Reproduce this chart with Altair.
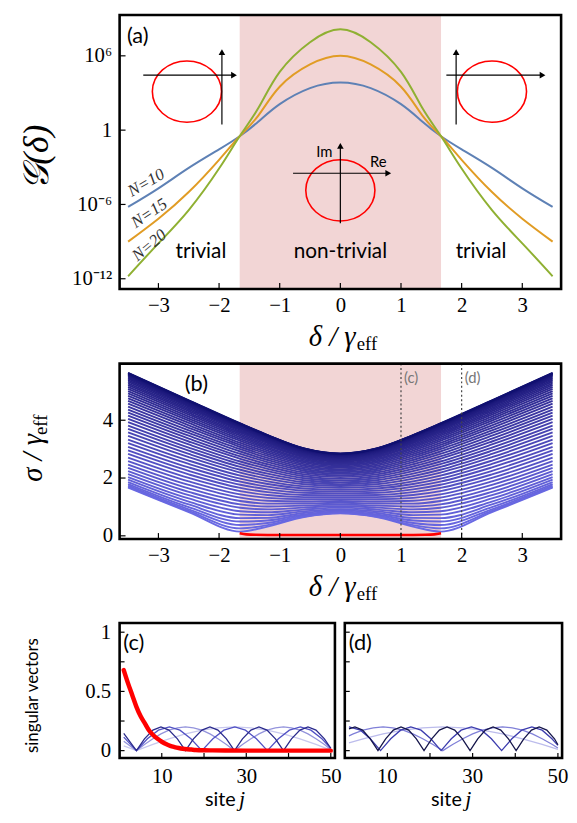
import altair as alt
import pandas as pd

SERIF = "Liberation Serif"
SANS = "Lato"
PINK = "#f2d5d5"
FRAME_W = 2.6

# ---------------- panel (a): end-to-end gain ----------------
DELTA_A = [-3.5, -3.0, -2.5, -2.0, -1.66, -1.35, -1.0, -0.5, 0.0, 0.5, 1.0, 1.35, 1.66, 2.0, 2.5, 3.0, 3.5]
G_N10 = [6.3e-7, 2.0e-5, 8.9e-4, 2.8e-2, 0.32, 5.0, 126, 2.5e3, 7.1e3, 2.5e3, 126, 5.0, 0.32, 2.8e-2, 8.9e-4, 2.0e-5, 6.3e-7]
G_N15 = [1.0e-9, 7.1e-8, 1.0e-5, 4.0e-3, 0.32, 15.8, 3.2e3, 2.0e5, 1.0e6, 2.0e5, 3.2e3, 15.8, 0.32, 4.0e-3, 1.0e-5, 7.1e-8, 1.0e-9]
G_N20 = [1.6e-12, 7.2e-10, 3.5e-7, 7.9e-4, 0.32, 63, 5.0e4, 1.26e7, 1.38e8, 1.26e7, 5.0e4, 63, 0.32, 7.9e-4, 3.5e-7, 7.2e-10, 1.6e-12]
N_COLORS = ["#5e81b5", "#e19c24", "#8fb032"]
N_TEXT = ["N=10", "N=15", "N=20"]
N_X = [-3.2, -3.15, -3.15]
N_Y = [5.5e-5, 1.9e-7, 4.9e-10]
N_ANGLE = [330, 326, 320]
GAP_EDGE = 1.66

REGION_TEXT = ["trivial", "non-trivial", "trivial"]
REGION_X = [-2.3, 0.0, 2.32]
REGION_Y = [5.2e-11, 5.2e-11, 5.2e-11]

INSET_CX = [-2.53, 0.0, 2.50]
INSET_CY = [1.29e3, 1.38e-5, 1.29e3]
HX1 = [-3.25, -0.78, 1.748]
HX2 = [-1.754, 0.79, 3.334]
HY = [2.75e4, 3.3e-4, 2.75e4]
VX = [-1.953, 0.0, 1.909]
VY1 = [2.84, 3.1e-8, 2.84]
VY2 = [1.95e6, 5.4e-2, 1.95e6]

# ---------------- panel (b): singular values ----------------
DELTA_B_POS = [0.0, 0.6, 1.2, 1.65, 2.5, 3.5]
S_00 = [0.775, 0.789, 0.812, 0.843, 0.881, 0.926, 0.975, 1.029, 1.086, 1.145, 1.207, 1.270, 1.334, 1.399, 1.464, 1.530, 1.595, 1.660, 1.724, 1.787, 1.850, 1.911, 1.971, 2.030, 2.088, 2.143, 2.198, 2.250, 2.301, 2.350, 2.397, 2.441, 2.484, 2.525, 2.563, 2.600, 2.633, 2.665, 2.694, 2.721, 2.745, 2.767, 2.786, 2.803, 2.818, 2.829, 2.838, 2.845, 2.849]
S_06 = [0.647, 0.666, 0.698, 0.740, 0.790, 0.847, 0.909, 0.976, 1.045, 1.117, 1.190, 1.264, 1.339, 1.414, 1.489, 1.564, 1.638, 1.711, 1.784, 1.855, 1.925, 1.993, 2.061, 2.126, 2.190, 2.252, 2.312, 2.370, 2.426, 2.480, 2.532, 2.581, 2.628, 2.673, 2.715, 2.755, 2.792, 2.827, 2.859, 2.888, 2.915, 2.939, 2.960, 2.979, 2.994, 3.007, 3.017, 3.024, 3.029]
S_12 = [0.320, 0.371, 0.444, 0.529, 0.621, 0.717, 0.816, 0.915, 1.015, 1.116, 1.215, 1.315, 1.413, 1.511, 1.607, 1.702, 1.795, 1.887, 1.977, 2.066, 2.152, 2.237, 2.319, 2.399, 2.477, 2.552, 2.625, 2.696, 2.764, 2.829, 2.891, 2.951, 3.008, 3.062, 3.113, 3.160, 3.205, 3.247, 3.285, 3.320, 3.352, 3.381, 3.407, 3.429, 3.447, 3.463, 3.475, 3.483, 3.488]
S_165 = [0.147, 0.257, 0.375, 0.494, 0.613, 0.733, 0.852, 0.971, 1.088, 1.205, 1.320, 1.434, 1.547, 1.658, 1.767, 1.875, 1.981, 2.085, 2.188, 2.287, 2.385, 2.480, 2.573, 2.664, 2.751, 2.836, 2.918, 2.998, 3.074, 3.147, 3.218, 3.285, 3.349, 3.409, 3.466, 3.520, 3.570, 3.617, 3.660, 3.700, 3.736, 3.768, 3.796, 3.821, 3.842, 3.859, 3.873, 3.882, 3.888]
S_25 = [0.823, 0.860, 0.919, 0.995, 1.085, 1.185, 1.293, 1.406, 1.522, 1.641, 1.762, 1.884, 2.006, 2.127, 2.248, 2.368, 2.487, 2.604, 2.720, 2.834, 2.945, 3.054, 3.161, 3.264, 3.365, 3.464, 3.559, 3.650, 3.739, 3.824, 3.906, 3.984, 4.058, 4.128, 4.195, 4.258, 4.316, 4.371, 4.421, 4.467, 4.509, 4.547, 4.580, 4.609, 4.634, 4.654, 4.670, 4.681, 4.688]
S_35 = [1.669, 1.694, 1.736, 1.792, 1.862, 1.943, 2.034, 2.134, 2.240, 2.352, 2.468, 2.587, 2.709, 2.833, 2.957, 3.082, 3.207, 3.331, 3.455, 3.577, 3.697, 3.816, 3.932, 4.046, 4.157, 4.266, 4.371, 4.473, 4.571, 4.666, 4.757, 4.844, 4.928, 5.007, 5.082, 5.152, 5.218, 5.279, 5.336, 5.388, 5.436, 5.478, 5.516, 5.549, 5.577, 5.599, 5.617, 5.630, 5.637]
SIG_B = [S_00, S_06, S_12, S_165, S_25, S_35]
RED_D = [-1.66, -1.55, -1.4, -1.2, -0.6, 0.0, 0.6, 1.2, 1.4, 1.55, 1.66]
RED_S = [0.09, 0.05, 0.035, 0.03, 0.03, 0.03, 0.03, 0.03, 0.035, 0.05, 0.09]
CUT_D = [1.0, 2.0]
CUT_TEXT = ["(c)", "(d)"]

# ---------------- panels (c), (d): singular vectors ----------------
RED_SITE = [1, 2, 3, 4, 5, 6, 7, 8, 9, 10, 11, 12, 13, 14, 15, 16, 17, 18, 20, 22, 25, 30, 40, 50]
RED_VAL = [0.68, 0.57, 0.47, 0.37, 0.29, 0.23, 0.17, 0.13, 0.10, 0.075, 0.055, 0.04, 0.03, 0.022, 0.016, 0.012, 0.009, 0.006, 0.003, 0.002, 0.001, 0.0, 0.0, 0.0]

C1_SITE = [1, 4, 5.9, 7.9, 9.8, 11.7, 13.7, 15.6, 17.5, 19.5, 21.4, 23.3, 25.3, 27.2, 29.1, 31.1, 33.0, 34.9, 36.9, 38.8, 40.7, 42.7, 44.6, 46.5, 48.5, 50]
C1_VAL = [0.145, 0, 0.1, 0.173, 0.2, 0.173, 0.1, 0, 0.1, 0.173, 0.2, 0.173, 0.1, 0, 0.1, 0.173, 0.2, 0.173, 0.1, 0, 0.1, 0.173, 0.2, 0.173, 0.1, 0.02]
C2_SITE = [1, 4, 6.6, 9.2, 11.8, 14.3, 16.9, 19.5, 22.1, 24.7, 27.3, 29.8, 32.4, 35, 37.6, 40.2, 42.8, 45.3, 47.9, 50]
C2_VAL = [0.114, 0, 0.1, 0.173, 0.2, 0.173, 0.1, 0, 0.1, 0.173, 0.2, 0.173, 0.1, 0, 0.1, 0.173, 0.2, 0.173, 0.1, 0.02]
C3_SITE = [1, 4, 5.9, 7.9, 9.8, 11.7, 13.7, 15.6, 17.5, 19.5, 21.4, 23.3, 25.3, 27.2, 29.1, 31.1, 33.0, 34.9, 36.9, 38.8, 40.7, 42.7, 44.6, 46.5, 48.5, 50]
C3_VAL = [0.079, 0, 0.052, 0.1, 0.141, 0.173, 0.193, 0.2, 0.193, 0.173, 0.141, 0.1, 0.052, 0, 0.052, 0.1, 0.141, 0.173, 0.193, 0.2, 0.193, 0.173, 0.141, 0.1, 0.052, 0.01]
C4_SITE = [1, 4, 7.9, 11.7, 15.6, 19.5, 23.3, 27.2, 31.1, 34.9, 38.8, 42.7, 46.5, 50]
C4_VAL = [0.04, 0, 0.052, 0.1, 0.141, 0.173, 0.193, 0.2, 0.193, 0.173, 0.141, 0.1, 0.052, 0.005]
C_COLORS = ["#c8c8ee", "#9494dc", "#5151c4", "#2a2a8c"]

D1_SITE = [1, 2.4, 4.2, 6.0, 7.8, 9.6, 11.4, 13.2, 15.0, 16.8, 18.6, 20.4, 22.2, 24.0, 25.8, 27.6, 29.4, 31.2, 33.0, 34.8, 36.6, 38.4, 40.2, 42.0, 43.8, 45.6, 47.4, 49.2, 50]
D1_VAL = [0.184, 0.2, 0.173, 0.1, 0, 0.1, 0.173, 0.2, 0.173, 0.1, 0, 0.1, 0.173, 0.2, 0.173, 0.1, 0, 0.1, 0.173, 0.2, 0.173, 0.1, 0, 0.1, 0.173, 0.2, 0.173, 0.1, 0.05]
D2_SITE = [1, 3.7, 6.0, 8.4, 10.8, 13.1, 15.5, 17.9, 20.2, 22.6, 25.0, 27.3, 29.7, 32.1, 34.4, 36.8, 39.2, 41.5, 43.9, 46.3, 48.6, 50]
D2_VAL = [0.2, 0.173, 0.1, 0, 0.1, 0.173, 0.2, 0.173, 0.1, 0, 0.1, 0.173, 0.2, 0.173, 0.1, 0, 0.1, 0.173, 0.2, 0.173, 0.1, 0.044]
D3_SITE = [1, 2.0, 4.3, 6.7, 9.0, 11.3, 13.7, 16.0, 18.3, 20.7, 23.0, 25.3, 27.7, 30.0, 32.3, 34.7, 37.0, 39.3, 41.7, 44.0, 46.3, 48.7, 50]
D3_VAL = [0.125, 0.141, 0.173, 0.193, 0.2, 0.193, 0.173, 0.141, 0.1, 0.052, 0, 0.052, 0.1, 0.141, 0.173, 0.193, 0.2, 0.193, 0.173, 0.141, 0.1, 0.052, 0.022]
D4_SITE = [1, 4.3, 9.0, 13.7, 18.3, 23.0, 27.7, 32.3, 37.0, 41.7, 46.3, 50]
D4_VAL = [0.066, 0.1, 0.141, 0.173, 0.193, 0.2, 0.193, 0.173, 0.141, 0.1, 0.052, 0.011]
D_COLORS = ["#bcbcec", "#8080d8", "#3c3cae", "#15154a"]

# ---------------- layout ----------------
W_A, H_A = 447, 277.5
W_B, H_B = 447, 177.6
W_C, W_D, X_D0 = 218, 220, 228
Y_OFF, H_C = 9.6, 136.7
W_R, H_R = X_D0 + W_D, Y_OFF + H_C
SPACING = 75
ELLIPSE = "M -1 0 A 1 0.886 0 1 1 1 0 A 1 0.886 0 1 1 -1 0 Z"


def axis(values, pad, fmt=None, expr=None):
    kw = dict(values=values, title="", ticks=False, domain=False, grid=False,
              labelFont=SERIF, labelFontSize=21, labelPadding=pad, labelColor="black",
              labelFlush=False, labelOverlap=False)
    if fmt:
        kw["format"] = fmt
    if expr:
        kw["labelExpr"] = expr
    return alt.Axis(**kw)


def one(v="x"):
    return pd.DataFrame({"t": [v]})


def txt(text, x, y, size, font=SANS, align="left", baseline="alphabetic", angle=0,
        style="normal", color="black", dy=0):
    return alt.Chart(one(text)).mark_text(
        align=align, baseline=baseline, fontSize=size, font=font, fontStyle=style,
        color=color, angle=angle, dy=dy).encode(x=alt.value(x), y=alt.value(y), text="t:N")


def frame(x0, y0, w, h):
    return alt.Chart(one()).mark_rect(fillOpacity=0, stroke="black", strokeWidth=FRAME_W).encode(
        x=alt.value(x0), x2=alt.value(x0 + w), y=alt.value(y0), y2=alt.value(y0 + h))


sx = alt.Scale(domain=[-3.64, 3.64], nice=False, zero=False)
ax_x = axis([-3, -2, -1, 0, 1, 2, 3], 6)


def Xd(f):
    return alt.X(f"{f}:Q", scale=sx, axis=ax_x)


# ======== (a) ========
sy_a = alt.Scale(type="log", domain=[1.48e-13, 2.0e9], nice=False)
ax_ya = axis([1e-12, 1e-6, 1, 1e6], 8,
             expr="datum.value > 1000 ? '10⁶' : datum.value > 0.5 ? '1' : datum.value > 1e-9 ? '10⁻⁶' : '10⁻¹²'")


def Ya(f):
    return alt.Y(f"{f}:Q", scale=sy_a, axis=ax_ya)


la = []
la.append(alt.Chart(pd.DataFrame({"lo": [-GAP_EDGE], "hi": [GAP_EDGE]})).mark_rect(color=PINK).encode(
    x=Xd("lo"), x2="hi:Q", y=alt.value(0), y2=alt.value(H_A)))
for vals, col in zip([G_N10, G_N15, G_N20], N_COLORS):
    la.append(alt.Chart(pd.DataFrame({"d": DELTA_A, "G": vals})).mark_line(
        color=col, strokeWidth=2, interpolate="natural").encode(x=Xd("d"), y=Ya("G")))
# insets
la.append(alt.Chart(pd.DataFrame({"d": INSET_CX, "G": INSET_CY})).mark_point(
    shape=ELLIPSE, size=4900, filled=False, color="red", strokeWidth=1.6, opacity=1).encode(x=Xd("d"), y=Ya("G")))
la.append(alt.Chart(pd.DataFrame({"a": HX1, "b": HX2, "G": HY})).mark_rule(color="black", strokeWidth=1.2).encode(
    x=Xd("a"), x2="b:Q", y=Ya("G")))
la.append(alt.Chart(pd.DataFrame({"d": VX, "g1": VY1, "g2": VY2})).mark_rule(color="black", strokeWidth=1.2).encode(
    x=Xd("d"), y=Ya("g1"), y2="g2:Q"))
la.append(alt.Chart(pd.DataFrame({"d": HX2, "G": HY})).mark_point(
    shape="triangle-right", filled=True, size=45, color="black", opacity=1).encode(x=Xd("d"), y=Ya("G")))
la.append(alt.Chart(pd.DataFrame({"d": VX, "G": VY2})).mark_point(
    shape="triangle-up", filled=True, size=45, color="black", opacity=1).encode(x=Xd("d"), y=Ya("G")))
la.append(alt.Chart(pd.DataFrame({"d": [-0.13], "G": [6.2e-3], "t": ["Im"]})).mark_text(
    align="right", baseline="alphabetic", font=SANS, fontSize=15, color="black").encode(x=Xd("d"), y=Ya("G"), text="t:N"))
la.append(alt.Chart(pd.DataFrame({"d": [0.49], "G": [1.0e-3], "t": ["Re"]})).mark_text(
    align="left", baseline="alphabetic", font=SANS, fontSize=15, color="black").encode(x=Xd("d"), y=Ya("G"), text="t:N"))
la.append(alt.Chart(pd.DataFrame({"d": REGION_X, "G": REGION_Y, "t": REGION_TEXT})).mark_text(
    align="center", baseline="alphabetic", font=SANS, fontSize=21, color="black").encode(x=Xd("d"), y=Ya("G"), text="t:N"))
for t, x, y, ang in zip(N_TEXT, N_X, N_Y, N_ANGLE):
    la.append(alt.Chart(pd.DataFrame({"d": [x], "G": [y], "t": [t]})).mark_text(
        align="center", baseline="middle", font=SERIF, fontStyle="italic", fontSize=17, color="#333333",
        angle=ang).encode(x=Xd("d"), y=Ya("G"), text="t:N"))
# inward ticks
la.append(alt.Chart(pd.DataFrame({"t": [-3, -2, -1, 0, 1, 2, 3]})).mark_rule(color="black", strokeWidth=1.2).encode(
    x=Xd("t"), y=alt.value(H_A - 6), y2=alt.value(H_A)))
la.append(alt.Chart(pd.DataFrame({"t": [1e-12, 1e-6, 1, 1e6]})).mark_rule(color="black", strokeWidth=1.2).encode(
    y=Ya("t"), x=alt.value(0), x2=alt.value(6)))
la.append(frame(0, 0, W_A, H_A))
la.append(txt("(a)", 7.4, 28.5, 22))
la.append(txt("𝒢(δ)", -83.6, 144, 36, font=SERIF, align="center", baseline="middle", angle=270, style="italic"))
la.append(txt("δ / γ", 239, H_A + 58, 29, font=SERIF, align="right", style="italic"))
la.append(txt("eff", 240, H_A + 62, 19, font=SERIF, align="left"))
# white anchor fixing the left edge of the drawing
la.append(alt.Chart(one()).mark_rule(color="white", strokeWidth=1).encode(
    x=alt.value(-111.6), x2=alt.value(-111.6), y=alt.value(100), y2=alt.value(101)))
chart_a = alt.layer(*la).properties(width=W_A, height=H_A)

# ======== (b) ========
sy_b = alt.Scale(domain=[-0.11, 5.96], nice=False, zero=False)
ax_yb = axis([0, 2, 4], 7)


def Yb(f):
    return alt.Y(f"{f}:Q", scale=sy_b, axis=ax_yb)


rows = []
for k in range(len(S_00)):
    for i, d in enumerate(DELTA_B_POS):
        v = SIG_B[i][k]
        rows.append({"d": d, "s": v, "k": k + 1})
        if d > 0:
            rows.append({"d": -d, "s": v, "k": k + 1})
df_band = pd.DataFrame(rows)

lb = []
lb.append(alt.Chart(pd.DataFrame({"lo": [-GAP_EDGE], "hi": [GAP_EDGE]})).mark_rect(color=PINK).encode(
    x=Xd("lo"), x2="hi:Q", y=alt.value(0), y2=alt.value(H_B)))
lb.append(alt.Chart(df_band).mark_line(strokeWidth=1.9, interpolate="monotone").encode(
    x=Xd("d"), y=Yb("s"), detail="k:N",
    color=alt.Color("k:Q", scale=alt.Scale(domain=[1, 49], range=["#6a6ae4", "#101070"]), legend=None)))
lb.append(alt.Chart(pd.DataFrame({"d": RED_D, "s": RED_S})).mark_line(
    color="#ff0000", strokeWidth=2.6, interpolate="monotone").encode(x=Xd("d"), y=Yb("s")))
lb.append(alt.Chart(pd.DataFrame({"d": CUT_D})).mark_rule(color="#444444", strokeWidth=1.2, strokeDash=[2, 2.5]).encode(
    x=Xd("d"), y=alt.value(0), y2=alt.value(H_B)))
lb.append(alt.Chart(pd.DataFrame({"d": [c + 0.05 for c in CUT_D], "t": CUT_TEXT})).mark_text(
    align="left", baseline="alphabetic", font=SANS, fontSize=15, color="#777777").encode(
    x=Xd("d"), y=alt.value(20), text="t:N"))
lb.append(alt.Chart(pd.DataFrame({"t": [-3, -2, -1, 0, 1, 2, 3]})).mark_rule(color="black", strokeWidth=1.2).encode(
    x=Xd("t"), y=alt.value(H_B - 6), y2=alt.value(H_B)))
lb.append(alt.Chart(pd.DataFrame({"t": [0, 2, 4]})).mark_rule(color="black", strokeWidth=1.2).encode(
    y=Yb("t"), x=alt.value(0), x2=alt.value(6)))
lb.append(frame(0, 0, W_B, H_B))
lb.append(txt("(b)", 66, 27.3, 22))
lb.append(txt("σ / γ", -79, 71.3, 29, font=SERIF, align="right", angle=270, style="italic"))
lb.append(txt("eff", -79, 72.3, 19, font=SERIF, align="left", angle=270, dy=5))
lb.append(txt("δ / γ", 239, H_B + 58, 29, font=SERIF, align="right", style="italic"))
lb.append(txt("eff", 240, H_B + 62, 19, font=SERIF, align="left"))
chart_b = alt.layer(*lb).properties(width=W_B, height=H_B)

# ======== (c) and (d) ========
sx_c = alt.Scale(domain=[0.02, 50.98], range=[0, W_C], nice=False, zero=False)
sx_d = alt.Scale(domain=[0.02, 50.98], range=[X_D0, X_D0 + W_D], nice=False, zero=False)
sy_c = alt.Scale(domain=[-0.062, 1.078], range=[H_R, Y_OFF], nice=False, zero=False)
ax_xc = axis([10, 30, 50], 8)
ax_yc = axis([0, 0.5, 1], 9, fmt="~g")


def Yc(f):
    return alt.Y(f"{f}:Q", scale=sy_c, axis=ax_yc)


lc = []
lc.append(frame(0, Y_OFF, W_C, H_C))
lc.append(frame(X_D0, Y_OFF, W_D, H_C))
first = True
for sites, vals, col in zip([C4_SITE, C3_SITE, C2_SITE, C1_SITE], [C4_VAL, C3_VAL, C2_VAL, C1_VAL], C_COLORS):
    xe = alt.X("j:Q", scale=sx_c, axis=ax_xc) if first else alt.X("j:Q", scale=sx_c, axis=None)
    first = False
    lc.append(alt.Chart(pd.DataFrame({"j": sites, "v": vals})).mark_line(color=col, strokeWidth=1.3).encode(
        x=xe, y=Yc("v")))
lc.append(alt.Chart(pd.DataFrame({"j": RED_SITE, "v": RED_VAL})).mark_line(
    color="#ff0000", strokeWidth=4.5, strokeCap="round", interpolate="monotone").encode(
    x=alt.X("j:Q", scale=sx_c, axis=None), y=Yc("v")))
for sites, vals, col in zip([D4_SITE, D3_SITE, D2_SITE, D1_SITE], [D4_VAL, D3_VAL, D2_VAL, D1_VAL], D_COLORS):
    lc.append(alt.Chart(pd.DataFrame({"j": sites, "v": vals})).mark_line(color=col, strokeWidth=1.3).encode(
        x=alt.X("j:Q", scale=sx_d, axis=None), y=Yc("v")))
for sc in (sx_c, sx_d):
    lc.append(alt.Chart(pd.DataFrame({"t": [10, 20, 30, 40, 50]})).mark_rule(color="black", strokeWidth=1.2).encode(
        x=alt.X("t:Q", scale=sc, axis=None), y=alt.value(H_R - 5), y2=alt.value(H_R)))
for x0 in (0, X_D0):
    lc.append(alt.Chart(pd.DataFrame({"t": [0, 0.25, 0.5, 0.75, 1]})).mark_rule(color="black", strokeWidth=1.2).encode(
        y=Yc("t"), x=alt.value(x0), x2=alt.value(x0 + 5)))
lc.append(alt.Chart(pd.DataFrame({"t": [10, 30, 50]})).mark_text(
    align="center", baseline="top", font=SERIF, fontSize=21, color="black", dy=8).encode(
    x=alt.X("t:Q", scale=sx_d, axis=None), y=alt.value(H_R), text="t:N"))
lc.append(txt("(c)", 3.7, Y_OFF + 27, 22))
lc.append(txt("(d)", X_D0 + 4, Y_OFF + 27, 22))
lc.append(txt("singular vectors", -82.8, Y_OFF + 73.5, 17, align="center", angle=270))
for xc in (W_C / 2, X_D0 + W_D / 2):
    lc.append(txt("site", xc + 8.5, 195, 20, align="right"))
    lc.append(txt("j", xc + 12, 195, 22, font=SERIF, style="italic"))
chart_c = alt.layer(*lc).resolve_scale(x="independent").properties(width=W_R, height=H_R)

full = alt.vconcat(chart_a, chart_b, chart_c, spacing=SPACING, bounds="flush").properties(
    padding={"left": 0, "top": 0, "right": 0, "bottom": 0}
).configure(background="white").configure_view(strokeWidth=0, stroke="transparent")

full.save("out.html", embed_options={"renderer": "svg", "actions": False})
